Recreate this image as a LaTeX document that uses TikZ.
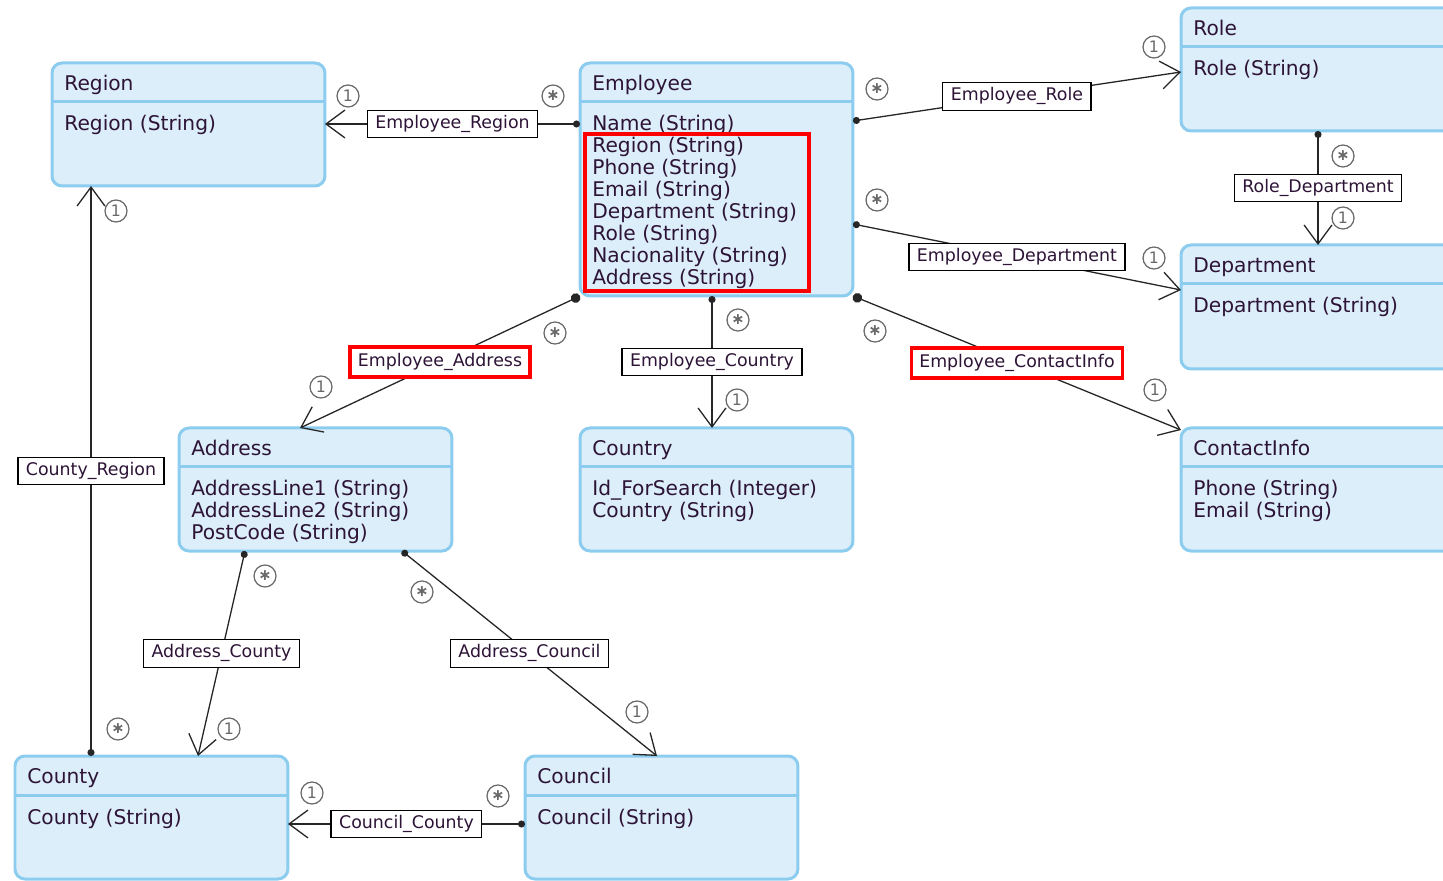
\documentclass[tikz,border=0pt]{standalone}
\usepackage{fontspec}
\setmainfont{DejaVu Sans}
\usetikzlibrary{arrows.meta,calc}

\definecolor{entityfill}{RGB}{220,238,250}
\definecolor{entityborder}{RGB}{140,204,238}
\definecolor{inktext}{RGB}{45,20,55}
\definecolor{multgray}{RGB}{105,105,105}

% entity box: name, left, top, height, title, attributes
\newcommand{\entity}[6]{%
	\node (#1) at (#2,#3) [entity, minimum height=#4*0.02cm] {};
	\draw[entity border] (#2,#3+39) -- ++(273,0);
	\node at (#2+12,#3+27.5) [entity text] {#5};
	\foreach \attr [count=\row from 0] in {#6}
		\node at (#2+12,#3+68+22*\row) [entity text] {\attr};
}

\begin{document}
\begin{tikzpicture}[x=0.02cm, y=-0.02cm,
	entity/.style={draw=entityborder, fill=entityfill, line width=0.06cm, rounded corners=0.2cm,
		minimum width=5.46cm, anchor=north west, outer sep=0pt, inner sep=0pt},
	entity border/.style={draw=entityborder, line width=0.06cm},
	entity text/.style={anchor=base west, inner sep=0pt, text=inktext, font=\fontsize{11.5}{12.5}\selectfont},
	assoc/.style={draw=black!85, line width=0.026cm,
		arrows={Circle[length=4pt]-Straight Barb[length=10.8pt,width=15.9pt]}},
	big dot/.style={arrows={Circle[length=5.5pt]-Straight Barb[length=10.8pt,width=15.9pt]}},
	assoc label/.style={draw=black, fill=white, line width=0.026cm, inner xsep=0.16cm, inner ysep=0pt,
		text height=0.72em, text depth=0.22em,
		minimum height=0.55cm, text=inktext, font=\fontsize{9.9}{11}\selectfont},
	hl label/.style={assoc label, draw=red, line width=0.065cm, minimum height=0.6cm},
	highlight/.style={draw=red, line width=0.08cm},
	mult/.style={circle, draw=multgray, line width=0.025cm, minimum size=0.44cm, inner sep=0pt,
		text=multgray, font=\fontsize{9}{9}\selectfont}]

	\useasboundingbox (0,0) rectangle (1443,881);
	\clip (0,0) rectangle (1443,881);

	% entities
	\entity{Region}{52}{63}{123}{Region}{Region (String)}
	\entity{Employee}{580}{63}{233}{Employee}{Name (String), Region (String), Phone (String), Email (String),
		Department (String), Role (String), Nacionality (String), Address (String)}
	\entity{Role}{1181}{8}{123}{Role}{Role (String)}
	\entity{Department}{1181}{245}{124}{Department}{Department (String)}
	\entity{Address}{179}{428}{123}{Address}{AddressLine1 (String), AddressLine2 (String), PostCode (String)}
	\entity{Country}{580}{428}{123}{Country}{Id\_ForSearch (Integer), Country (String)}
	\entity{ContactInfo}{1181}{428}{123}{ContactInfo}{Phone (String), Email (String)}
	\entity{County}{15}{756}{123}{County}{County (String)}
	\entity{Council}{525}{756}{123}{Council}{Council (String)}

	\draw[highlight] (585,134) rectangle (809,291);

	% associations
	\draw[assoc] ($(Employee.north west)+(0,61)$) -- node[assoc label] {Employee\_Region} ($(Region.north east)+(0,61)$);
	\draw[assoc] ($(Employee.north east)+(0,58)$) -- node[assoc label] {Employee\_Role} ($(Role.north west)+(0,64)$);
	\draw[assoc] ($(Employee.north east)+(0,161)$) -- node[assoc label] {Employee\_Department} ($(Department.north west)+(0,45)$);
	\draw[assoc, big dot] (Employee.south east) -- node[hl label] {Employee\_ContactInfo} ($(ContactInfo.north west)+(0,2)$);
	\draw[assoc] ($(Employee.south west)+(132,0)$) -- node[assoc label] {Employee\_Country} ($(Country.north west)+(132,0)$);
	\draw[assoc, big dot] (Employee.south west) -- node[hl label] {Employee\_Address} ($(Address.north west)+(121,0)$);
	\draw[assoc] ($(Role.south west)+(137,0)$) -- node[assoc label] {Role\_Department} ($(Department.north west)+(137,0)$);
	\draw[assoc] ($(County.north west)+(76,0)$) -- node[assoc label] {County\_Region} ($(Region.south west)+(39,0)$);
	\draw[assoc] ($(Address.south west)+(66,0)$) -- node[assoc label] {Address\_County} ($(County.north west)+(183,0)$);
	\draw[assoc] ($(Address.south west)+(223,0)$) -- node[assoc label] {Address\_Council} ($(Council.north west)+(132,0)$);
	\draw[assoc] ($(Council.north west)+(0,68)$) -- node[assoc label] {Council\_County} ($(County.north east)+(0,68)$);

	% multiplicities
	\node (ERone)	at (348,96)	[mult]	{1};
	\node (ERmany)	at (553,96)	[mult]	{\textbf{∗}};
	\node (ERoone)	at (1154,47)	[mult]	{1};
	\node (ERomany)	at (877,89)	[mult]	{\textbf{∗}};
	\node (EDone)	at (1154,258)	[mult]	{1};
	\node (EDmany)	at (877,200)	[mult]	{\textbf{∗}};
	\node (ECIone)	at (1155,390)	[mult]	{1};
	\node (ECImany)	at (875,331)	[mult]	{\textbf{∗}};
	\node (ECone)	at (737,400)	[mult]	{1};
	\node (ECmany)	at (738,320)	[mult]	{\textbf{∗}};
	\node (EAone)	at (321,387)	[mult]	{1};
	\node (EAmany)	at (555,333)	[mult]	{\textbf{∗}};
	\node (RDone)	at (1343,218)	[mult]	{1};
	\node (RDmany)	at (1343,156)	[mult]	{\textbf{∗}};
	\node (CRone)	at (116,211)	[mult]	{1};
	\node (CRmany)	at (118,729)	[mult]	{\textbf{∗}};
	\node (ACyone)	at (229,729)	[mult]	{1};
	\node (ACymany)	at (265,576)	[mult]	{\textbf{∗}};
	\node (ACone)	at (637,712)	[mult]	{1};
	\node (ACmany)	at (422,592)	[mult]	{\textbf{∗}};
	\node (CCone)	at (312,793)	[mult]	{1};
	\node (CCmany)	at (498,796)	[mult]	{\textbf{∗}};
\end{tikzpicture}
\end{document}
